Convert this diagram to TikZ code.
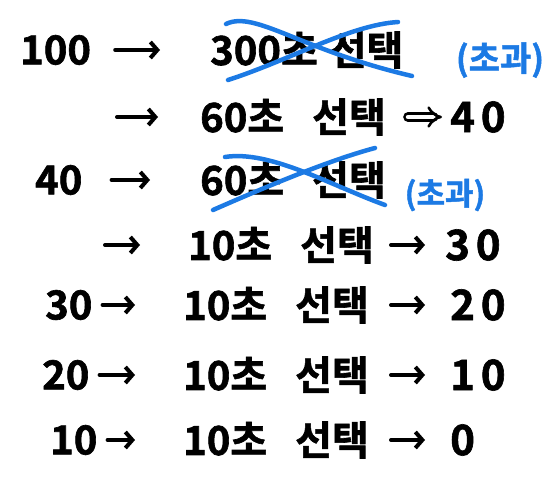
\documentclass[tikz,border=0pt]{standalone}
\usepackage{fontspec}
\setmainfont{Noto Sans CJK KR}[BoldFont={Noto Sans CJK KR Bold}, BoldFeatures={FakeBold=1.5}]
\usepackage{tikz}
\usetikzlibrary{arrows.meta}
\definecolor{penblue}{RGB}{28,122,228}
\newcommand{\pick}[2][28pt]{#2초\hspace{#1}선택}

\begin{document}
\begin{tikzpicture}[
  x=1pt, y=-1pt,
  hand/.style={font=\fontsize{40}{40}\selectfont\bfseries, inner sep=0pt, anchor=west},
  wide/.style={hand, font=\fontsize{42}{42}\selectfont\bfseries\addfontfeature{LetterSpace=14}},
  over/.style={font=\fontsize{31}{31}\selectfont\bfseries, text=penblue, inner sep=0pt},
  arr/.style={line width=4pt, line cap=round, -{Straight Barb[length=7pt, width=16pt, line width=4pt]}},
  darr/.style={line width=2.6pt, double distance=4.5pt, line cap=round, -{Implies[length=10pt, width=22pt]}},
  cross/.style={penblue, line width=4.5pt, line cap=round}
]
  \useasboundingbox (0,0) rectangle (556,486);

  % row 1
  \node[hand] (n100) at (20,50) {100};
  \node[hand] (t300) at (210,50) {\pick[12pt]{300}};
  \node[over, font=\fontsize{34}{34}\selectfont\bfseries] (ov1) at (500,60) {(초과)};
  \draw[arr] ([xshift=24pt]n100.east) -- ([xshift=-50pt]t300.west);
  \draw[cross] (226,24) .. controls (255,10) and (300,50) .. (412,76);
  \draw[cross] (228,80) .. controls (290,60) and (350,25) .. (398,22);

  % row 2
  \coordinate (c2) at (117,117);
  \node[hand] (t60a) at (200,117) {\pick{60}};
  \node[wide] (r40) at (450,117) {40};
  \draw[arr] (c2) -- ([xshift=-42pt]t60a.west);
  \draw[darr] ([xshift=22pt]t60a.east) -- ([xshift=-8pt]r40.west);

  % row 3
  \node[hand] (n40) at (35,180) {40};
  \node[hand] (t60b) at (200,180) {\pick{60}};
  \node[over] (ov2) at (445,195) {(초과)};
  \draw[arr] ([xshift=29pt]n40.east) -- ([xshift=-50pt]t60b.west);
  \draw[cross] (225,157) .. controls (270,150) and (330,185) .. (385,205);
  \draw[cross] (213,210) .. controls (270,185) and (330,160) .. (375,148);

  % rows 4-7
  \coordinate (c4) at (105,245);
  \node[hand] (t10a) at (188,245) {\pick{10}};
  \node[wide] (r30) at (445,245) {30};
  \draw[arr] (c4) -- ([xshift=-48pt]t10a.west);
  \draw[arr] ([xshift=17pt]t10a.east) -- ([xshift=-20pt]r30.west);

  \foreach \y/\x/\a/\b/\r in {305/45/30/20/n30, 375/42/20/10/n20, 440/50/10/0/n10} {
    \node[hand] (\r) at (\x,\y) {\a};
    \node[hand] (t\r) at (183,\y) {\pick{10}};
    \node[wide] (r\r) at (450,\y) {\b};
    \draw[arr] (\r.east) ++(10pt,0) coordinate (s\r) -- ([xshift=-48pt]t\r.west);
    \draw[arr] ([xshift=22pt]t\r.east) -- ([xshift=-25pt]r\r.west);
  }
\end{tikzpicture}
\end{document}
